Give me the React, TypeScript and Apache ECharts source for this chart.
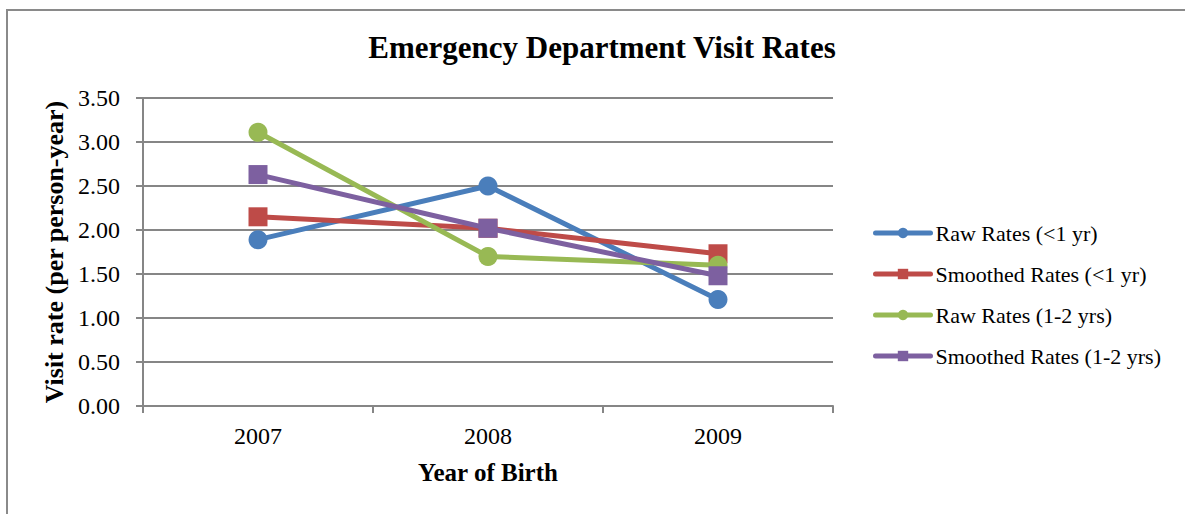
import React, { useEffect, useRef } from "react";
import * as echarts from "echarts";

const categories = ["2007", "2008", "2009"];
const rawUnder1 = [1.89, 2.5, 1.21];
const smoothedUnder1 = [2.15, 2.02, 1.73];
const raw1to2 = [3.11, 1.7, 1.6];
const smoothed1to2 = [2.63, 2.02, 1.48];

const seriesNames = [
  "Raw Rates (<1 yr)",
  "Smoothed Rates (<1 yr)",
  "Raw Rates (1-2 yrs)",
  "Smoothed Rates (1-2 yrs)",
];
const colors = ["#4A7EBB", "#BE4B48", "#98B954", "#7D60A0"];
const symbols = ["circle", "rect", "circle", "rect"];
const seriesData = [rawUnder1, smoothedUnder1, raw1to2, smoothed1to2];

const FONT = "'Liberation Serif', 'DejaVu Serif', serif";

export default function App() {
  const ref = useRef<HTMLDivElement>(null);
  useEffect(() => {
    if (!ref.current) return;
    const chart = echarts.init(ref.current, undefined, { renderer: "svg" });
    chart.setOption({
      animation: false,
      backgroundColor: "#ffffff",
      title: {
        text: "Emergency Department Visit Rates",
        left: 597,
        top: 27,
        textAlign: "center",
        textStyle: { fontFamily: FONT, fontWeight: "bold", fontSize: 31, color: "#000" },
      },
      graphic: [
        {
          type: "rect",
          shape: { x: 7, y: 10, width: 1400, height: 700 },
          style: { fill: "none", stroke: "#8a8a8a", lineWidth: 2 },
          silent: true,
        },
      ],
      legend: {
        orient: "vertical",
        left: 868,
        top: 217,
        itemGap: 19,
        itemWidth: 55,
        itemHeight: 13,
        lineStyle: { width: 5, cap: "round" },
        textStyle: { fontFamily: FONT, fontSize: 22, color: "#000" },
        data: seriesNames,
      },
      grid: { left: 143, right: 352, top: 98, bottom: 108, containLabel: false },
      xAxis: {
        type: "category",
        data: categories,
        boundaryGap: true,
        axisLine: { lineStyle: { color: "#868686", width: 2 } },
        axisTick: { show: true, length: 7, lineStyle: { color: "#868686", width: 2 } },
        axisLabel: { fontFamily: FONT, fontSize: 24, color: "#000", margin: 18 },
        name: "Year of Birth",
        nameLocation: "middle",
        nameGap: 54,
        nameTextStyle: { fontFamily: FONT, fontWeight: "bold", fontSize: 25, color: "#000" },
      },
      yAxis: {
        type: "value",
        min: 0,
        max: 3.5,
        interval: 0.5,
        axisLine: { show: true, lineStyle: { color: "#868686", width: 2 } },
        axisTick: { show: true, length: 7, lineStyle: { color: "#868686", width: 2 } },
        splitLine: { show: true, lineStyle: { color: "#868686", width: 2 } },
        axisLabel: {
          fontFamily: FONT,
          fontSize: 24,
          color: "#000",
          margin: 23,
          formatter: (v: number) => v.toFixed(2),
        },
        name: "Visit rate (per person-year)",
        nameLocation: "middle",
        nameGap: 72,
        nameTextStyle: { fontFamily: FONT, fontWeight: "bold", fontSize: 26, color: "#000" },
      },
      series: seriesNames.map((name, i) => ({
        name,
        type: "line",
        data: seriesData[i],
        symbol: symbols[i],
        symbolSize: 19,
        lineStyle: { color: colors[i], width: 5 },
        itemStyle: { color: colors[i] },
        z: 2 + i,
      })),
    });
    return () => chart.dispose();
  }, []);
  return (
    <div
      ref={ref}
      style={{ position: "absolute", left: 0, top: 0, width: 1185, height: 514 }}
    />
  );
}
